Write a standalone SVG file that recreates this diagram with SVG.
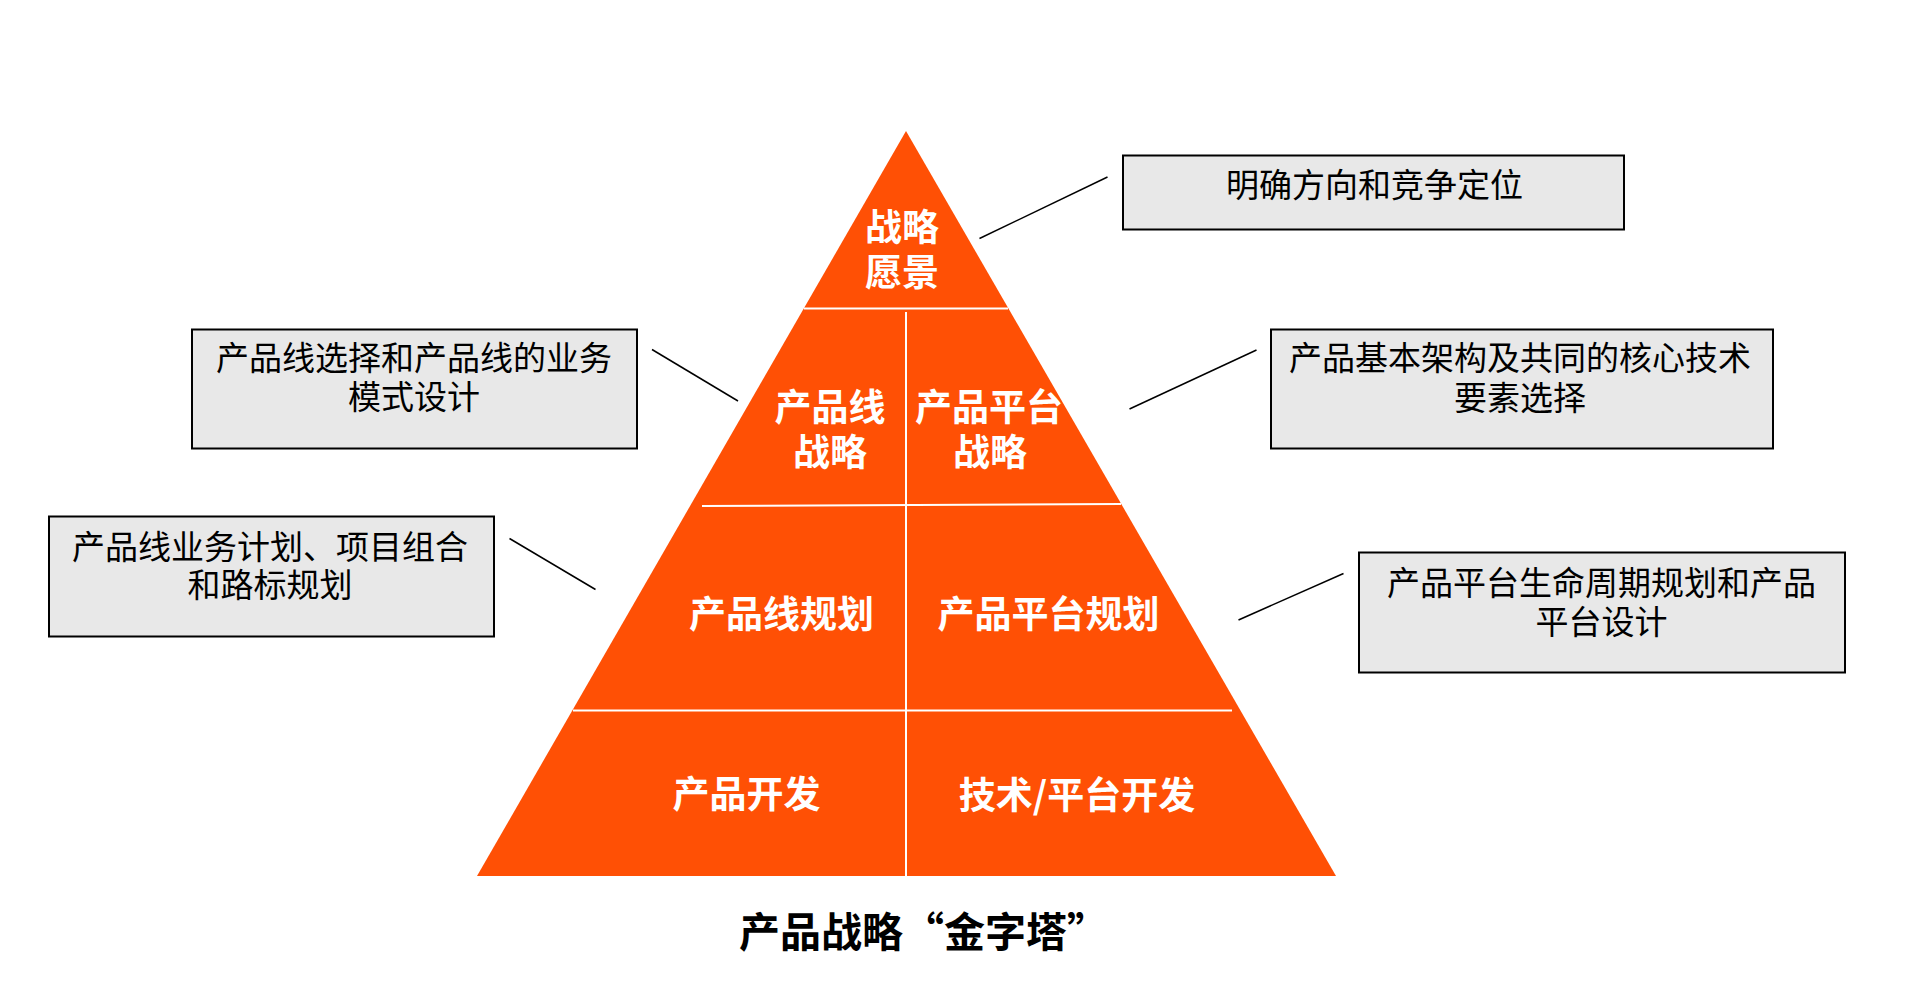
<svg xmlns="http://www.w3.org/2000/svg" width="1920" height="995" viewBox="0 0 1920 995">
<style>
.box{fill:#e8e8e8;stroke:#000;stroke-width:2}
.bt{font-family:"Noto Sans CJK SC","Noto Sans",sans-serif;font-size:33px;fill:#000;text-anchor:middle}
.wt{font-family:"Noto Sans CJK SC","Noto Sans",sans-serif;font-size:37px;font-weight:bold;fill:#fff;text-anchor:middle}
.sep{stroke:#fff;stroke-width:2;fill:none}
.con{stroke:#000;stroke-width:1.5;fill:none}
</style>
<rect width="1920" height="995" fill="#fff"/>
<g id="pyramid">
<polygon points="906,131 1336,876 477,876" fill="#ff5005"/>
<line class="sep" x1="804" y1="308.5" x2="1008" y2="308.5"/>
<line class="sep" x1="702" y1="506" x2="1121" y2="504"/>
<line class="sep" x1="573" y1="710.5" x2="1232" y2="710.5"/>
<line class="sep" x1="906" y1="312" x2="906" y2="876"/>
</g>
<g id="level-vision">
<text class="wt" x="902" y="241">战略<tspan x="902" dy="44.5">愿景</tspan></text>
</g>
<g id="level-productline-strategy">
<text class="wt" x="830" y="421">产品线<tspan x="830" dy="45">战略</tspan></text>
</g>
<g id="level-platform-strategy">
<text class="wt" x="989" y="421">产品平台<tspan x="990" dy="45">战略</tspan></text>
</g>
<g id="level-productline-planning">
<text class="wt" x="781.5" y="628">产品线规划</text>
</g>
<g id="level-platform-planning">
<text class="wt" x="1048.5" y="628">产品平台规划</text>
</g>
<g id="level-product-dev">
<text class="wt" x="746.5" y="807.5">产品开发</text>
</g>
<g id="level-tech-dev">
<text class="wt" x="1077" y="808.5">技术/平台开发</text>
</g>
<g id="box-direction">
<rect class="box" x="1123" y="155.5" width="501" height="74"/>
<text class="bt" x="1374.5" y="197">明确方向和竞争定位</text>
</g>
<g id="box-productline">
<rect class="box" x="192" y="329.5" width="445" height="119"/>
<text class="bt" x="414" y="370">产品线选择和产品线的业务<tspan x="414" dy="39">模式设计</tspan></text>
</g>
<g id="box-architecture">
<rect class="box" x="1271" y="329.5" width="502" height="119"/>
<text class="bt" x="1520" y="370">产品基本架构及共同的核心技术<tspan x="1520" dy="40">要素选择</tspan></text>
</g>
<g id="box-roadmap">
<rect class="box" x="49" y="516.5" width="445" height="120"/>
<text class="bt" x="270" y="559">产品线业务计划、项目组合<tspan x="270" dy="38">和路标规划</tspan></text>
</g>
<g id="box-lifecycle">
<rect class="box" x="1359" y="552.5" width="486" height="120"/>
<text class="bt" x="1601.5" y="595">产品平台生命周期规划和产品<tspan x="1601.5" dy="39">平台设计</tspan></text>
</g>
<g id="connectors">
<line class="con" x1="979.5" y1="238.5" x2="1107.5" y2="177"/>
<line class="con" x1="652" y1="349.5" x2="738" y2="401"/>
<line class="con" x1="1129.5" y1="409" x2="1256.5" y2="350"/>
<line class="con" x1="509.5" y1="538.5" x2="595.5" y2="589.5"/>
<line class="con" x1="1238.5" y1="620" x2="1343.5" y2="573.5"/>
</g>
<g id="title">
<text x="739" y="947" style="font-family:'Noto Sans CJK SC','Noto Sans',sans-serif;font-size:41px;font-weight:bold;fill:#000">产品战略“金字塔”</text>
</g>
</svg>
